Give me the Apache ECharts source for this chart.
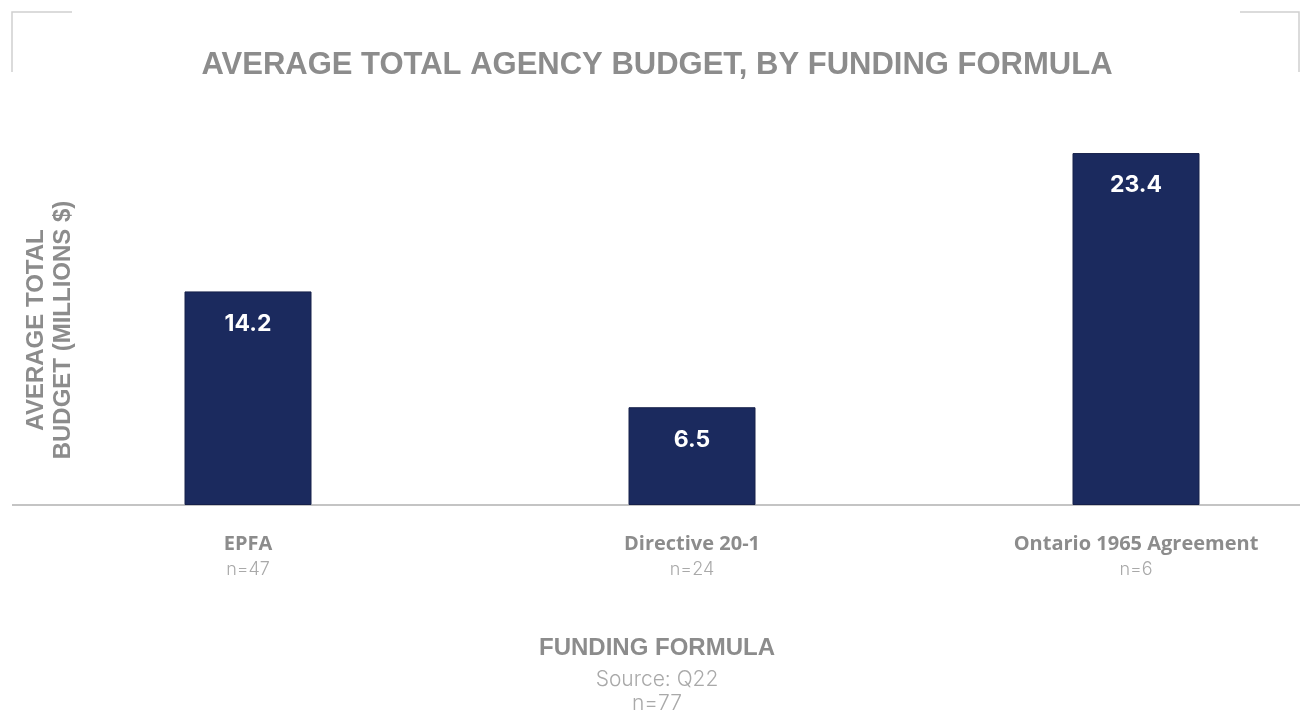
<!DOCTYPE html>
<html>
<head>
<meta charset="utf-8">
<script src="https://cdn.jsdelivr.net/npm/echarts@6/dist/echarts.min.js"></script>
<style>
html,body{margin:0;padding:0;background:#fff;}
#chart{width:1304px;height:714px;}
</style>
</head>
<body>
<div id="chart"></div>
<script>
const categories = ['EPFA', 'Directive 20-1', 'Ontario 1965 Agreement'];
const sampleSizes = ['n=47', 'n=24', 'n=6'];
const values = [14.2, 6.5, 23.4];
const titleText = 'AVERAGE TOTAL AGENCY BUDGET, BY FUNDING FORMULA';
const yAxisName = 'AVERAGE TOTAL\nBUDGET (MILLIONS $)';
const xAxisName = 'FUNDING FORMULA';
const sourceText = 'Source: Q22';
const totalN = 'n=77';

const gray = '#8c8c8c';
const lightGray = '#a9a9a9';
const barColor = '#1b2a5e';
const cornerColor = '#d0d0d0';

const chart = echarts.init(document.getElementById('chart'));
chart.setOption({
  backgroundColor: '#ffffff',
  animation: false,
  grid: { left: 248, right: 168, top: 129, bottom: 209, containLabel: false },
  xAxis: {
    type: 'category',
    data: categories,
    boundaryGap: false,
    axisLine: { show: false },
    axisTick: { show: false },
    axisLabel: {
      interval: 0,
      margin: 27,
      formatter: function (v, i) { return '{b|' + v + '}\n{n|' + sampleSizes[i] + '}'; },
      rich: {
        b: { fontFamily: 'Open Sans', fontWeight: 'bold', fontSize: 20, color: gray, lineHeight: 25 },
        n: { fontFamily: 'Inter', fontWeight: 300, fontSize: 18, color: lightGray, lineHeight: 25 }
      }
    }
  },
  yAxis: {
    type: 'value', min: 0, max: 25,
    show: false,
    splitLine: { show: false }
  },
  series: [{
    type: 'bar',
    data: values,
    barWidth: 127,
    itemStyle: { color: barColor, borderColor: '#16204a', borderWidth: 1 },
    label: {
      show: true,
      position: 'insideTop',
      distance: 21,
      color: '#ffffff',
      fontFamily: 'Inter',
      fontWeight: 'bold',
      fontSize: 23,
      formatter: function (p) { return p.value.toFixed(1); }
    }
  }],
  graphic: [
    { type: 'line', shape: { x1: 12, y1: 505, x2: 1300, y2: 505 }, style: { stroke: '#c4c4c4', lineWidth: 2 } },
    { type: 'polyline', shape: { points: [[12, 72], [12, 12], [72, 12]] }, style: { stroke: cornerColor, lineWidth: 1.5, fill: null } },
    { type: 'polyline', shape: { points: [[1240, 12], [1299, 12], [1299, 72]] }, style: { stroke: cornerColor, lineWidth: 1.5, fill: null } },
    { type: 'text', x: 657, y: 65, style: { text: titleText, fill: gray, font: 'bold 31px "Liberation Sans", Arial, sans-serif', textAlign: 'center', textVerticalAlign: 'middle' } },
    { type: 'text', x: 50, y: 330, rotation: Math.PI / 2, style: { text: yAxisName, fill: gray, font: 'bold 24px "Liberation Sans", Arial, sans-serif', textAlign: 'center', textVerticalAlign: 'middle', lineHeight: 27 } },
    { type: 'text', x: 657, y: 648, style: { text: xAxisName, fill: gray, font: 'bold 24px "Liberation Sans", Arial, sans-serif', textAlign: 'center', textVerticalAlign: 'middle' } },
    { type: 'text', x: 657, y: 680, style: { text: sourceText, fill: lightGray, font: '300 21px Inter, sans-serif', textAlign: 'center', textVerticalAlign: 'middle' } },
    { type: 'text', x: 657, y: 704, style: { text: totalN, fill: lightGray, font: '300 21px Inter, sans-serif', textAlign: 'center', textVerticalAlign: 'middle' } }
  ]
});
</script>
</body>
</html>
